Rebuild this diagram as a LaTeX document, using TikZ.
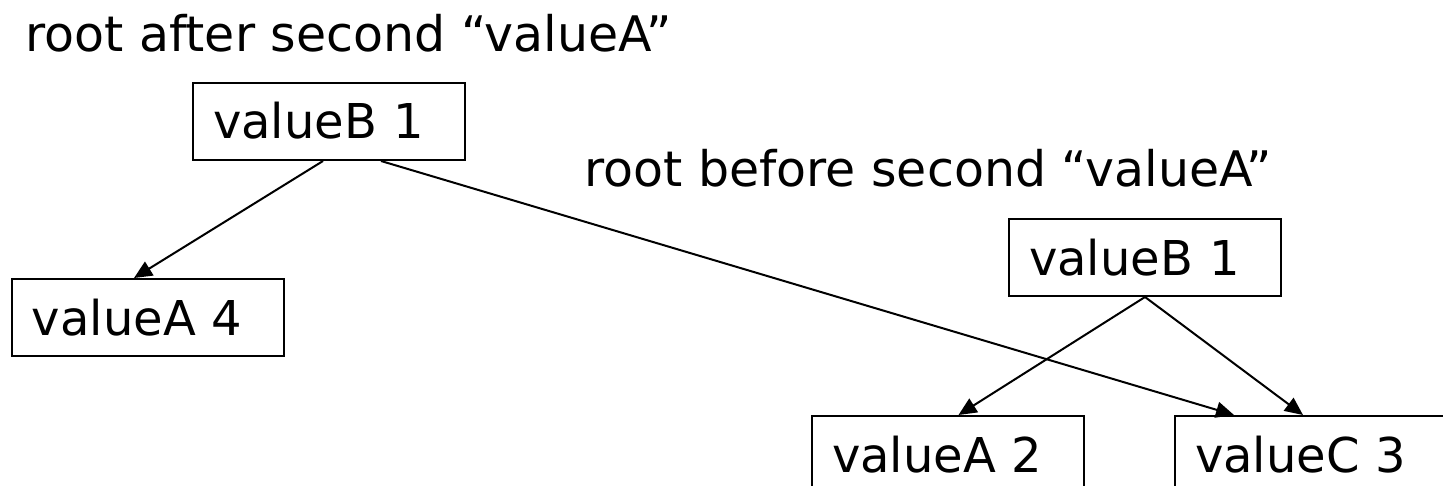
\documentclass[tikz,border=0pt]{standalone}
\usepackage{fontspec}
\setmainfont{DejaVu Sans}
\usetikzlibrary{arrows.meta,calc}
\tikzset{
  valbox/.style={draw, line width=1pt, anchor=north west, inner xsep=10pt, inner ysep=0pt,
    text width=116pt, align=left, text height=28pt, text depth=10.5pt,
    font=\fontsize{24pt}{28pt}\selectfont},
  title/.style={anchor=base west, inner sep=0pt, font=\fontsize{24.5pt}{28pt}\selectfont},
  conn/.style={line width=1pt, -{Triangle[length=9pt,width=8pt]}}
}
\begin{document}
\begin{tikzpicture}[x=0.5pt,y=-0.5pt]
\clip (0,0) rectangle (1443,486);
\node[title] (t1) at (25,52) {root after second “valueA”};
\node[title] (t2) at (584,186) {root before second “valueA”};
\node[valbox] (bL) at (192,82) {valueB 1};
\node[valbox] (a4) at (11,278) {valueA 4};
\node[valbox] (bR) at (1008,218) {valueB 1};
\node[valbox] (a2) at (811,415) {valueA 2};
\node[valbox] (c3) at (1174,415) {valueC 3};
\draw[conn] ($(bL.south)+(-6,0)$) -- ($(a4.north)+(-14,0)$);
\draw[conn] ($(bL.south)+(52,0)$) -- ($(c3.north)+(-77,0)$);
\draw[conn] (bR.south) -- ($(a2.north)+(10.5,0)$);
\draw[conn] (bR.south) -- ($(c3.north)+(-8,0)$);
\end{tikzpicture}
\end{document}
